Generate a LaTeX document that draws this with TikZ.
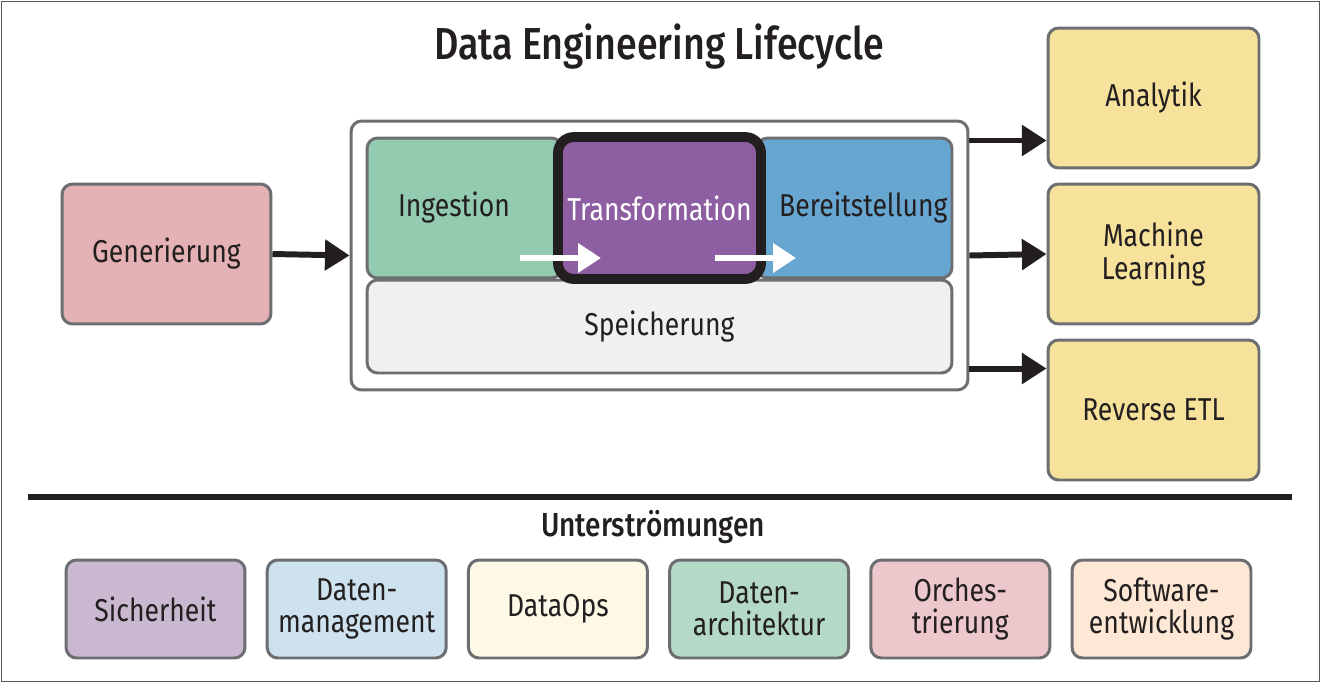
\documentclass[tikz,border=0pt]{standalone}
\usepackage{fontspec}
\setmainfont{Fira Sans}[FakeStretch=0.84,BoldFont={* Medium}]
\usetikzlibrary{arrows.meta,calc}
\definecolor{genred}{HTML}{E4B1B4}
\definecolor{ingreen}{HTML}{93CBB0}
\definecolor{trpurple}{HTML}{8E5EA2}
\definecolor{beblue}{HTML}{67A6D0}
\definecolor{spgray}{HTML}{F0F0F0}
\definecolor{outyellow}{HTML}{F7E29B}
\definecolor{bordgray}{HTML}{6D6E71}
\definecolor{txtblack}{HTML}{231F20}
\definecolor{sicher}{HTML}{C9B8D0}
\definecolor{datman}{HTML}{CDE2EE}
\definecolor{dataops}{HTML}{FEF8E6}
\definecolor{datarch}{HTML}{B4D9C6}
\definecolor{orch}{HTML}{ECC8CD}
\definecolor{softw}{HTML}{FDE8D6}

\begin{document}
\begin{tikzpicture}[x=0.02cm,y=-0.02cm,
		box/.style={draw=bordgray,line width=1.7pt,rounded corners=6pt,align=center,
			text=txtblack,inner sep=0pt,font=\fontsize{18}{18.5}\selectfont},
		arr/.style={line width=3.4pt,draw=txtblack,-{Triangle[length=14pt,width=17pt]}},
		warr/.style={line width=3.4pt,draw=white,-{Triangle[length=13pt,width=16pt]}}]
		% Frame
		\useasboundingbox (0,0) rectangle (1321,683);
		\draw[gray!70!black,line width=0.8pt] (1.5,1.5) rectangle (1319.5,681.5);
		% Title
		\node[text=txtblack,font=\fontsize{25.5}{28}\selectfont\bfseries] (title) at (659,47) {Data Engineering Lifecycle};
		% Source
		\node[box,fill=genred,minimum width=4.18cm,minimum height=2.8cm] (gen) at (166.5,254) {Generierung};
		% Lifecycle stages
		\node[box,fill=white,minimum width=12.34cm,minimum height=5.38cm] (cont) at (659.5,255.5) {};
		\node[box,fill=ingreen,minimum width=3.9cm,minimum height=2.8cm] (ing) at (464.5,208) {\hspace*{-12pt}Ingestion};
		\node[box,fill=beblue,minimum width=3.9cm,minimum height=2.8cm] (ber) at (854.5,208) {\hspace*{10pt}Bereitstellung};
		\node[box,fill=spgray,minimum width=11.7cm,minimum height=1.86cm] (spe) at (659.5,326.5) {Speicherung};
		\node[box,fill=trpurple,draw=txtblack,line width=5.6pt,rounded corners=9pt,text=white,
			minimum width=4.06cm,minimum height=2.84cm] (tra) at (659.5,208) {Transformation};
		% Flow arrows inside
		\coordinate (w1) at (520,258);
		\coordinate (w2) at (601,258);
		\coordinate (w3) at (715,258);
		\coordinate (w4) at (796,258);
		\draw[warr] (w1)--(w2);
		\draw[warr] (w3)--(w4);
		% Outputs
		\node[box,fill=outyellow,minimum width=4.22cm,minimum height=2.8cm] (ana) at (1153.5,98) {Analytik};
		\node[box,fill=outyellow,minimum width=4.22cm,minimum height=2.8cm] (ml) at (1153.5,254) {Machine\\Learning};
		\node[box,fill=outyellow,minimum width=4.22cm,minimum height=2.8cm] (ret) at (1153.5,410) {Reverse ETL};
		% Arrows
		\draw[arr] (gen.east)--(cont.west);
		\coordinate (a1) at ([yshift=0.58cm]ana.south west);
		\coordinate (r1) at ([yshift=-0.6cm]ret.north west);
		\draw[arr] (cont.east |- a1)--(a1);
		\draw[arr] (cont.east)--(ml.west);
		\draw[arr] (cont.east |- r1)--(r1);
		% Separator
		\coordinate (s1) at (28,497);
		\coordinate (s2) at (1292,497);
		\draw[txtblack,line width=3.4pt] (s1)--(s2);
		\node[text=txtblack,font=\fontsize{19}{21}\selectfont\bfseries] (under) at (653,527) {Unterströmungen};
		% Undercurrents
		\foreach \i/\nm/\col/\txt in {0/sih/sicher/Sicherheit,1/dmg/datman/{Daten-\\management},
				2/dop/dataops/DataOps,3/dar/datarch/{Daten-\\architektur},
				4/ors/orch/{Orches-\\trierung},5/swe/softw/{Software-\\entwicklung}}{
				\node[box,fill=\col,minimum width=3.58cm,minimum height=1.96cm] (\nm) at ({155.5+201.2*\i},609) {\txt};
			}
	\end{tikzpicture}
\end{document}
